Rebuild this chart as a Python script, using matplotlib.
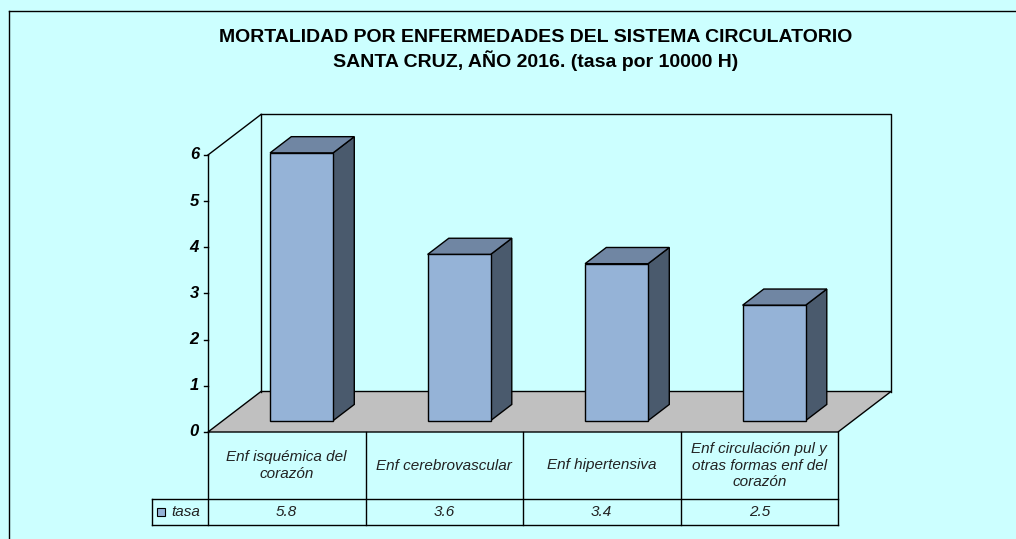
import numpy as np
import matplotlib
matplotlib.use("Agg")
import matplotlib.pyplot as plt
from matplotlib.patches import Polygon, Rectangle
from matplotlib.lines import Line2D

# datos
categorias = ["Enf isquémica del\ncorazón", "Enf cerebrovascular",
              "Enf hipertensiva",
              "Enf circulación pul y\notras formas enf del\ncorazón"]
tasa = [5.8, 3.6, 3.4, 2.5]
etiquetas_tasa = ["5.8", "3.6", "3.4", "2.5"]
yticks = [0, 1, 2, 3, 4, 5, 6]
serie = "tasa"
titulo = "MORTALIDAD POR ENFERMEDADES DEL SISTEMA CIRCULATORIO\nSANTA CRUZ, AÑO 2016. (tasa por 10000 H)"

plt.rcParams['font.family'] = ['Liberation Sans', 'DejaVu Sans']

W, H = 1016, 539
fig = plt.figure(figsize=(W / 100, H / 100), dpi=100)
fig.patch.set_facecolor("#CCFFFF")
ax = fig.add_axes([0, 0, 1, 1])
ax.set_facecolor("#CCFFFF")
ax.axis("off")

# escala: unidades de categoria en x, unidades de valor en y
px_x = 157.5      # pixeles por categoria
px_y = 46.17      # pixeles por unidad
x0_px, y0_px = 208, 432
ax.set_xlim(-x0_px / px_x, (W - x0_px) / px_x)
ax.set_ylim((y0_px - H) / px_y, y0_px / px_y)

# profundidad oblicua
DX = 53 / px_x
DY = 40.5 / px_y
ymax = 6
n = len(tasa)

def proj(x, y, d):
    return (x + d * DX, y + d * DY)

# pared de fondo, pared izquierda
lw = 1.0
ax.plot([0, DX], [ymax, ymax + DY], color="black", lw=lw)
ax.plot([DX, n + DX, n + DX], [ymax + DY, ymax + DY, DY], color="black", lw=lw)
ax.plot([DX, DX], [DY, ymax + DY], color="black", lw=lw)

# piso
piso = [proj(0, 0, 0), proj(n, 0, 0), proj(n, 0, 1), proj(0, 0, 1)]
ax.add_patch(Polygon(piso, closed=True, facecolor="#C0C0C0", edgecolor="black", lw=lw))

# barras 3D
ancho = 0.4
d0, d1 = 0.28, 0.68
c_front, c_top, c_side = "#95B3D7", "#7086A3", "#4A5A6D"
for i, v in enumerate(tasa):
    xl = i + 0.5 - ancho / 2
    xr = i + 0.5 + ancho / 2
    front = [proj(xl, 0, d0), proj(xr, 0, d0), proj(xr, v, d0), proj(xl, v, d0)]
    top = [proj(xl, v, d0), proj(xr, v, d0), proj(xr, v, d1), proj(xl, v, d1)]
    side = [proj(xr, 0, d0), proj(xr, 0, d1), proj(xr, v, d1), proj(xr, v, d0)]
    ax.add_patch(Polygon(side, closed=True, facecolor=c_side, edgecolor="black", lw=lw))
    ax.add_patch(Polygon(top, closed=True, facecolor=c_top, edgecolor="black", lw=lw))
    ax.add_patch(Polygon(front, closed=True, facecolor=c_front, edgecolor="black", lw=lw))

# eje y
ax.plot([0, 0], [ymax, 0], color="black", lw=lw)
tick_len = 4 / px_x
for t in yticks:
    ax.plot([-tick_len, 0], [t, t], color="black", lw=lw)
    ax.text(-9 / px_x, t, str(t), ha="right", va="center", fontsize=12,
            fontweight="bold", fontstyle="italic")

# tabla de datos
fila1 = -(499 - y0_px) / px_y
fila2 = -(525 - y0_px) / px_y
izq = -(x0_px - 152) / px_x
ax.plot([izq, n], [fila1, fila1], color="black", lw=lw)
ax.plot([izq, n], [fila2, fila2], color="black", lw=lw)
ax.plot([izq, izq], [fila1, fila2], color="black", lw=lw)
for i in range(n + 1):
    ax.plot([i, i], [0, fila2], color="black", lw=lw)
for i, (c, s) in enumerate(zip(categorias, etiquetas_tasa)):
    ax.text(i + 0.5, fila1 / 2, c, ha="center", va="center", fontsize=11,
            fontstyle="italic", color="#222222", linespacing=1.2)
    ax.text(i + 0.5, (fila1 + fila2) / 2, s, ha="center", va="center",
            fontsize=11, fontstyle="italic", color="#222222")

# leyenda en la tabla
sq_w = 8 / px_x
sq_h = 8 / px_y
ym = (fila1 + fila2) / 2
ax.add_patch(Rectangle((izq + 5 / px_x, ym - sq_h / 2), sq_w, sq_h,
                       facecolor=c_front, edgecolor="black", lw=0.8))
ax.text(izq + 19 / px_x, ym, serie, ha="left", va="center", fontsize=11,
        fontstyle="italic", color="#222222")

# titulo
fig.text(536 / W, 1 - 50 / H, titulo, ha="center", va="center", fontsize=14,
         fontweight="bold", linespacing=1.3)

# marco
fig.add_artist(Line2D([8.5 / W, 8.5 / W], [0, 1 - 11 / H], color="black", lw=1.0,
                      transform=fig.transFigure))
fig.add_artist(Line2D([8.5 / W, 1], [1 - 11 / H, 1 - 11 / H], color="black", lw=1.0,
                      transform=fig.transFigure))

fig.savefig("out.png", dpi=100, facecolor=fig.get_facecolor())
